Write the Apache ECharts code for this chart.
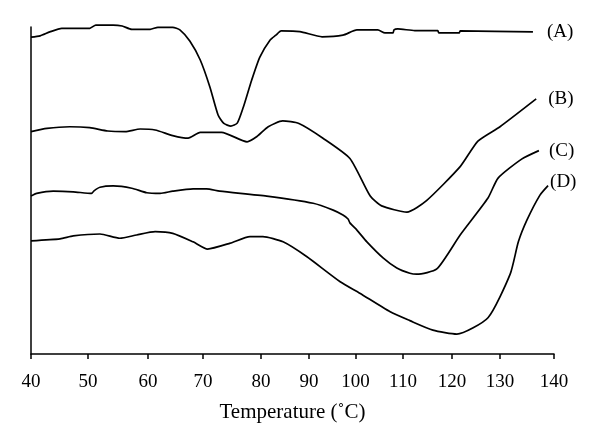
<!DOCTYPE html>
<html>
<head>
<meta charset="utf-8">
<script src="https://cdn.jsdelivr.net/npm/echarts@6/dist/echarts.min.js"></script>
<style>
  html, body { margin: 0; padding: 0; background: #fff; }
  #chart { width: 600px; height: 447px; }
</style>
</head>
<body>
<div id="chart"></div>
<script>
// ---- data (temperature in °C, signal in arbitrary units) ----
const tickLabels = [40, 50, 60, 70, 80, 90, 100, 110, 120, 130, 140];
const seriesNames = ['(A)', '(B)', '(C)', '(D)'];

const tempA = [40, 41.6, 43.3, 45.4, 50.3, 51.3, 54.2, 55.7, 57.3, 60.4, 61.8, 64.5, 65.8, 67.6, 69.5, 71.2, 72.6, 73.6, 74.8, 75.9, 76.9, 78.4, 79.8, 81.9, 83.1, 84.2, 88.1, 92.8, 97.3, 100.3, 104.7, 106.2, 107.9, 108.1, 108.9, 112.4, 117.1, 117.3, 121.5, 121.7, 136.1];
const valA  = [96.9, 97.3, 98.5, 99.6, 99.6, 100.6, 100.6, 100.3, 99.3, 99.3, 99.9, 99.9, 99.1, 95.7, 89.9, 81.6, 73.1, 70.5, 69.7, 70.6, 75.2, 83.8, 90.8, 96.0, 97.5, 98.8, 98.6, 97.0, 97.5, 99.1, 99.1, 98.2, 98.2, 99.1, 99.4, 98.9, 98.9, 98.2, 98.2, 98.8, 98.5];

const tempB = [40, 42.8, 46.8, 50.3, 53.3, 56.2, 58.7, 61.3, 64.5, 67.3, 69.5, 73.2, 77.6, 79.3, 81.5, 84.5, 87.9, 93.0, 98.8, 103.1, 105.5, 110.8, 114.8, 121.7, 125.4, 130.0, 136.7];
const valB  = [68.0, 69.0, 69.5, 69.2, 68.2, 68.0, 68.8, 68.5, 66.8, 66.0, 67.8, 67.8, 64.9, 66.5, 69.5, 71.3, 70.5, 66.0, 59.8, 48.3, 45.3, 43.4, 46.9, 57.3, 65.1, 69.5, 78.0];

const tempC = [40, 41.0, 43.9, 47.4, 50.6, 51.0, 52.0, 54.2, 57.3, 59.8, 62.2, 64.5, 68.2, 70.6, 72.9, 81.2, 90.9, 95.2, 97.3, 98.4, 98.8, 100.3, 102.4, 105.8, 108.7, 111.4, 112.8, 116.9, 121.7, 127.5, 129.6, 134.0, 137.2];
const valC  = [48.3, 49.1, 49.8, 49.6, 49.1, 49.9, 51.0, 51.4, 50.7, 49.3, 49.1, 49.8, 50.5, 50.5, 49.8, 48.3, 46.1, 44.0, 42.5, 41.3, 40.1, 37.9, 34.3, 29.4, 26.3, 24.7, 24.4, 26.0, 36.4, 47.7, 53.8, 59.6, 62.2];

const tempD = [40, 45.1, 47.4, 52.0, 55.3, 58.1, 61.3, 64.5, 68.2, 70.8, 74.7, 78.1, 80.4, 84.6, 89.5, 96.7, 100.9, 107.3, 111.4, 116.1, 121.0, 127.5, 131.9, 133.4, 135.0, 137.4, 138.9];
const valD  = [34.6, 35.2, 36.1, 36.7, 35.4, 36.4, 37.4, 36.9, 34.3, 32.1, 33.9, 35.9, 35.9, 34.3, 29.8, 22.1, 18.6, 12.9, 10.2, 7.3, 6.1, 11.1, 24.5, 34.3, 41.0, 48.6, 51.5];

// ---- layout: the printed temperature axis is not evenly spaced;
//      relative widths of each 10 °C interval as drawn in the figure ----
const tickSpacing = [57, 60, 55, 58, 48, 46.5, 47.5, 49, 48, 54];
const cum = [0];
tickSpacing.forEach(w => cum.push(cum[cum.length - 1] + w));

function warp(t) {
  let i = Math.floor((t - tickLabels[0]) / 10);
  i = Math.max(0, Math.min(tickSpacing.length - 1, i));
  return cum[i] + (t - tickLabels[i]) / 10 * tickSpacing[i];
}
function labelFor(v) {
  let best = 0;
  cum.forEach((c, i) => { if (Math.abs(c - v) < Math.abs(cum[best] - v)) best = i; });
  return String(tickLabels[best]);
}

const FONT = 'Liberation Serif';
const curves = [[tempA, valA], [tempB, valB], [tempC, valC], [tempD, valD]];
const endLabelStyle = [
  { distance: 14, offset: [0, 0] },
  { distance: 12, offset: [0, 0] },
  { distance: 10, offset: [0, 0] },
  { distance: 2, offset: [0, -4] }
];

const chart = echarts.init(document.getElementById('chart'), null, { renderer: 'canvas' });
chart.setOption({
  animation: false,
  backgroundColor: '#fff',
  grid: { left: 31, right: 46, top: 27, bottom: 93, containLabel: false },
  xAxis: {
    type: 'value',
    min: 0,
    max: cum[cum.length - 1],
    name: 'Temperature (˚C)',
    nameLocation: 'middle',
    nameGap: 48,
    nameTextStyle: { fontFamily: FONT, fontSize: 21, color: '#000' },
    axisLine: { show: true, lineStyle: { color: '#000', width: 1.5 } },
    axisTick: { show: true, inside: false, length: 5, customValues: cum, lineStyle: { color: '#000', width: 1.5 } },
    axisLabel: { show: true, customValues: cum, formatter: labelFor, margin: 19, fontFamily: FONT, fontSize: 19, color: '#000' },
    splitLine: { show: false }
  },
  yAxis: {
    type: 'value',
    min: 0,
    max: 100,
    axisLine: { show: true, onZero: false, lineStyle: { color: '#000', width: 1.5 } },
    axisTick: { show: false },
    axisLabel: { show: false },
    splitLine: { show: false }
  },
  series: curves.map((c, k) => ({
    type: 'line',
    name: seriesNames[k],
    data: c[0].map((t, j) => [warp(t), c[1][j]]),
    showSymbol: false,
    smooth: 0.2,
    clip: false,
    lineStyle: { color: '#000', width: 1.7 },
    endLabel: {
      show: true,
      formatter: seriesNames[k],
      distance: endLabelStyle[k].distance,
      offset: endLabelStyle[k].offset,
      fontFamily: FONT,
      fontSize: 19,
      color: '#000'
    }
  }))
});
</script>
</body>
</html>
